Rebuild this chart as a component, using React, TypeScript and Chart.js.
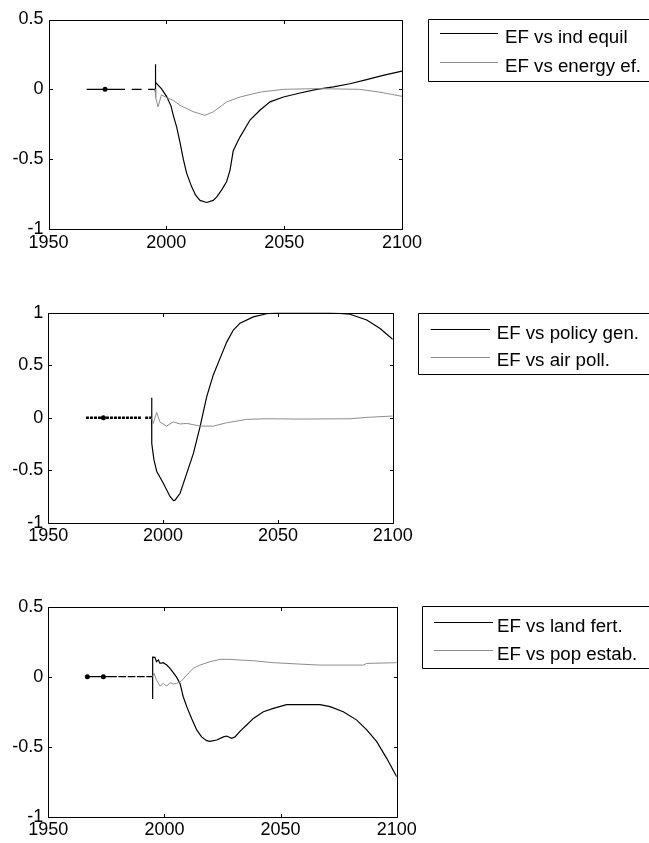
import React, { useEffect, useRef } from "react";
import { Chart, registerables } from "chart.js";

Chart.register(...registerables);

const BLACK = "#000000";
const GREY = "#8c8c8c";
const FONT = "'Liberation Sans', Arial, Helvetica, sans-serif";

// ---------- axis ticks ----------
const xTickYears = [1950, 2000, 2050, 2100];
const yTicksA = [-1, -0.5, 0, 0.5];
const yTicksB = [-1, -0.5, 0, 0.5, 1];

// ---------- panel 1 ----------
const hist1Years = [1966.2, 1974, 1982.5, 1983.9, 1985.3, 1989.5, 1990.9, 1992.3, 1995.2];
const hist1Values = [0, 0, 0, null, 0, 0, null, 0, 0];
const hist1Markers = [1974];
const indEquilYears = [1995.2, 1995.25, 1995.4, 1995.6, 1996.5, 1997.9, 2000.1, 2002, 2003, 2004.4, 2005.8, 2007.2, 2008.6, 2010.8, 2012.5, 2014.3, 2017.1, 2019.9, 2021.4, 2023.5, 2025.6, 2027, 2028.4, 2029.5, 2031.3, 2035.5, 2039.7, 2044, 2049.7, 2056.7, 2063.8, 2070.9, 2077.9, 2085, 2092, 2100];
const indEquilValues = [0, 0.18, -0.02, 0.05, 0.03, 0.005, -0.05, -0.12, -0.19, -0.27, -0.38, -0.5, -0.6, -0.7, -0.76, -0.795, -0.81, -0.795, -0.77, -0.72, -0.66, -0.58, -0.44, -0.4, -0.34, -0.22, -0.15, -0.09, -0.055, -0.026, 0, 0.017, 0.04, 0.07, 0.1, 0.13];
const energyEfYears = [1995.2, 1995.5, 1996.5, 1997.9, 2000.2, 2003, 2005.8, 2011.4, 2016.4, 2020, 2025.6, 2031.3, 2039.7, 2049.7, 2063.8, 2082, 2090.6, 2100];
const energyEfValues = [0, -0.06, -0.126, -0.04, -0.06, -0.08, -0.115, -0.16, -0.186, -0.16, -0.09, -0.055, -0.02, 0, 0.005, 0, -0.02, -0.05];

// ---------- panel 2 ----------
const hist2Years = [1966.4, 1974, 1990.7, 1991.5, 1992.2, 1995];
const hist2Values = [0, 0, 0, null, 0, 0];
const hist2Markers = [1974];
const policyGenYears = [1995, 1995.02, 1995.1, 1996, 1997.2, 2000.1, 2003, 2004.5, 2005.2, 2007.4, 2010.3, 2013.2, 2016.1, 2019, 2021.9, 2024.8, 2027.7, 2030.6, 2033.5, 2039.3, 2045.1, 2049.5, 2072.7, 2081.4, 2088.7, 2094.5, 2100];
const policyGenValues = [0, 0.19, -0.245, -0.4, -0.51, -0.625, -0.75, -0.79, -0.785, -0.72, -0.53, -0.34, -0.086, 0.2, 0.41, 0.565, 0.72, 0.835, 0.9, 0.96, 0.99, 1.0, 1.0, 0.985, 0.93, 0.85, 0.746];
const airPollYears = [1995, 1995.7, 1997.2, 1998.6, 2001.5, 2004.5, 2007.4, 2010.3, 2016.1, 2021.9, 2027.7, 2036.4, 2045, 2059.6, 2081.4, 2088.7, 2100];
const airPollValues = [0, -0.054, 0.05, -0.04, -0.08, -0.04, -0.06, -0.054, -0.08, -0.08, -0.048, -0.016, -0.01, -0.013, -0.01, 0.003, 0.016];

// ---------- panel 3 ----------
const hist3Years = [1966.2, 1966.8, 1973.7, 1979.5, 1979.85, 1980.2, 1983.5, 1983.85, 1984.2, 1987.5, 1987.85, 1988.2, 1991.5, 1991.85, 1992.2, 1994.9];
const hist3Values = [0, 0, 0, 0, null, 0, 0, null, 0, 0, null, 0, 0, null, 0, 0];
const hist3Markers = [1966.8, 1973.7];
const landFertYears = [1994.9, 1994.92, 1994.95, 1995.9, 1996.6, 1997.4, 1998.1, 1999.5, 2001, 2002.4, 2003.8, 2005.3, 2006.7, 2008.1, 2009.6, 2011.7, 2013.9, 2016, 2018.2, 2019.6, 2022.5, 2025.4, 2026.8, 2028.9, 2030.4, 2032.5, 2035.4, 2038.3, 2042.6, 2046.9, 2052.6, 2058.4, 2067, 2071.3, 2077, 2082.8, 2087.1, 2091.4, 2095.7, 2100];
const landFertValues = [0, -0.16, 0.14, 0.138, 0.107, 0.12, 0.095, 0.1, 0.083, 0.06, 0.029, -0.005, -0.048, -0.143, -0.214, -0.298, -0.38, -0.43, -0.457, -0.462, -0.452, -0.43, -0.424, -0.44, -0.43, -0.39, -0.345, -0.298, -0.25, -0.226, -0.2, -0.2, -0.2, -0.214, -0.25, -0.31, -0.38, -0.464, -0.583, -0.714];
const popEstabYears = [1994.9, 1995.5, 1996.6, 1998.1, 1999.5, 2001, 2002.4, 2003.8, 2005.3, 2007.4, 2009.6, 2012.4, 2015.3, 2019.6, 2024, 2028.2, 2032.5, 2038.3, 2046.9, 2058.4, 2067, 2085.6, 2087.1, 2100];
const popEstabValues = [0, 0.024, -0.024, -0.067, -0.048, -0.067, -0.043, -0.052, -0.048, -0.029, 0.012, 0.06, 0.083, 0.107, 0.124, 0.124, 0.119, 0.114, 0.1, 0.09, 0.083, 0.083, 0.095, 0.1];

const legend1Labels = ["EF vs ind equil", "EF vs energy ef."];
const legend2Labels = ["EF vs policy gen.", "EF vs air poll."];
const legend3Labels = ["EF vs land fert.", "EF vs pop estab."];

const W = 649;
const H = 281;

type Legend = {
  labels: string[];
  boxLeft: number;
  boxTop: number;
  boxBottom: number;
  lineX1: number;
  lineX2: number;
  rowY: number[];
  textX: number;
  baseY: number[];
};

type Spec = {
  offset: number;
  area: { left: number; right: number; top: number; bottom: number };
  yMin: number;
  yMax: number;
  yTicks: number[];
  hist: { years: number[]; values: (number | null)[]; markers: number[]; width: number; dash: number[] };
  black: { years: number[]; values: number[] };
  grey: { years: number[]; values: number[] };
  legend: Legend;
};

const specs: Spec[] = [
  {
    offset: 0,
    area: { left: 48.5, right: 402, top: 19.5, bottom: 229 },
    yMin: -1,
    yMax: 0.5,
    yTicks: yTicksA,
    hist: { years: hist1Years, values: hist1Values, markers: hist1Markers, width: 1.2, dash: [] },
    black: { years: indEquilYears, values: indEquilValues },
    grey: { years: energyEfYears, values: energyEfValues },
    legend: {
      labels: legend1Labels,
      boxLeft: 427.5,
      boxTop: 19,
      boxBottom: 80.5,
      lineX1: 440,
      lineX2: 498,
      rowY: [33.3, 62.3],
      textX: 505,
      baseY: [43, 72],
    },
  },
  {
    offset: 281,
    area: { left: 48.3, right: 392.7, top: 31.7, bottom: 241.7 },
    yMin: -1,
    yMax: 1,
    yTicks: yTicksB,
    hist: { years: hist2Years, values: hist2Values, markers: hist2Markers, width: 2.4, dash: [3, 1] },
    black: { years: policyGenYears, values: policyGenValues },
    grey: { years: airPollYears, values: airPollValues },
    legend: {
      labels: legend2Labels,
      boxLeft: 418.3,
      boxTop: 31.7,
      boxBottom: 93,
      lineX1: 430.7,
      lineX2: 490,
      rowY: [48, 75.7],
      textX: 496.7,
      baseY: [57.5, 85],
    },
  },
  {
    offset: 562,
    area: { left: 48.3, right: 396.7, top: 44.7, bottom: 254.7 },
    yMin: -1,
    yMax: 0.5,
    yTicks: yTicksA,
    hist: { years: hist3Years, values: hist3Values, markers: hist3Markers, width: 1.2, dash: [] },
    black: { years: landFertYears, values: landFertValues },
    grey: { years: popEstabYears, values: popEstabValues },
    legend: {
      labels: legend3Labels,
      boxLeft: 421.7,
      boxTop: 43.7,
      boxBottom: 105.7,
      lineX1: 434,
      lineX2: 493,
      rowY: [60.3, 88],
      textX: 497,
      baseY: [70, 97.5],
    },
  },
];

const toPoints = (years: number[], values: (number | null)[]) =>
  years.map((x, i) => ({ x, y: values[i] }));

function Panel({ spec }: { spec: Spec }) {
  const ref = useRef<HTMLCanvasElement | null>(null);

  useEffect(() => {
    if (!ref.current) return;
    const { area, legend } = spec;

    const boxPlugin = {
      id: "matlabBox",
      afterDraw(chart: any) {
        const ctx = chart.ctx as CanvasRenderingContext2D;
        const xs = chart.scales.x;
        const ys = chart.scales.y;
        const l = Math.round(chart.chartArea.left) + 0.5;
        const r = Math.round(chart.chartArea.right) + 0.5;
        const t = Math.round(chart.chartArea.top) + 0.5;
        const b = Math.round(chart.chartArea.bottom) + 0.5;
        ctx.save();
        ctx.strokeStyle = BLACK;
        ctx.lineWidth = 1;
        ctx.beginPath();
        ctx.rect(l, t, r - l, b - t);
        ctx.stroke();
        const tl = 3.5;
        ctx.beginPath();
        xTickYears.forEach((v) => {
          const px = Math.round(xs.getPixelForValue(v)) + 0.5;
          ctx.moveTo(px, b);
          ctx.lineTo(px, b - tl);
          ctx.moveTo(px, t);
          ctx.lineTo(px, t + tl);
        });
        spec.yTicks.forEach((v) => {
          const py = Math.round(ys.getPixelForValue(v)) + 0.5;
          ctx.moveTo(l, py);
          ctx.lineTo(l + tl, py);
          ctx.moveTo(r, py);
          ctx.lineTo(r - tl, py);
        });
        ctx.stroke();

        // legend
        ctx.beginPath();
        ctx.rect(Math.round(legend.boxLeft) + 0.5, Math.round(legend.boxTop) + 0.5, 400, Math.round(legend.boxBottom - legend.boxTop));
        ctx.stroke();
        const colors = [BLACK, GREY];
        legend.labels.forEach((lab, i) => {
          ctx.strokeStyle = colors[i];
          ctx.lineWidth = 1;
          ctx.beginPath();
          const y = Math.round(legend.rowY[i]) + 0.5;
          ctx.moveTo(legend.lineX1, y);
          ctx.lineTo(legend.lineX2, y);
          ctx.stroke();
          ctx.fillStyle = BLACK;
          ctx.font = `18.7px ${FONT}`;
          ctx.textAlign = "left";
          ctx.textBaseline = "alphabetic";
          ctx.fillText(lab, legend.textX, legend.baseY[i]);
        });
        ctx.restore();
      },
    };

    const chart = new Chart(ref.current, {
      type: "line",
      data: {
        datasets: [
          {
            label: legend.labels[1],
            data: toPoints(spec.grey.years, spec.grey.values) as any,
            borderColor: GREY,
            borderWidth: 1,
            pointRadius: 0,
            tension: 0,
          },
          {
            label: legend.labels[0],
            data: toPoints(spec.black.years, spec.black.values) as any,
            borderColor: BLACK,
            borderWidth: 1.2,
            pointRadius: 0,
            tension: 0,
          },
          {
            label: "history",
            data: toPoints(spec.hist.years, spec.hist.values) as any,
            borderColor: BLACK,
            backgroundColor: BLACK,
            borderWidth: spec.hist.width,
            borderDash: spec.hist.dash,
            pointRadius: (ctx: any) => {
              const p = ctx.raw;
              return p && spec.hist.markers.includes(p.x) ? 2.5 : 0;
            },
            pointBorderWidth: 0,
            pointBackgroundColor: BLACK,
            spanGaps: false,
            tension: 0,
          },
        ],
      },
      options: {
        animation: false,
        responsive: false,
        maintainAspectRatio: false,
        events: [],
        layout: { padding: { left: 0, right: W - area.right, top: area.top, bottom: 0 } },
        plugins: { legend: { display: false }, tooltip: { enabled: false } },
        scales: {
          x: {
            type: "linear",
            min: 1950,
            max: 2100,
            grid: { display: false, drawTicks: false },
            border: { display: false },
            ticks: {
              stepSize: 50,
              padding: 3,
              color: BLACK,
              font: { family: FONT, size: 18 },
              maxRotation: 0,
              autoSkip: false,
              callback: (v: any) => String(v),
            },
            afterFit: (s: any) => {
              s.height = H - area.bottom;
            },
          },
          y: {
            type: "linear",
            min: spec.yMin,
            max: spec.yMax,
            grid: { display: false, drawTicks: false },
            border: { display: false },
            ticks: {
              stepSize: 0.5,
              padding: 5,
              color: BLACK,
              font: { family: FONT, size: 18 },
              autoSkip: false,
              callback: (v: any) => String(v),
            },
            afterFit: (s: any) => {
              s.width = area.left;
            },
          },
        },
      },
      plugins: [boxPlugin],
    });
    return () => chart.destroy();
  }, [spec]);

  return (
    <canvas
      ref={ref}
      width={W}
      height={H}
      style={{ position: "absolute", left: 0, top: spec.offset, width: W, height: H, display: "block" }}
    />
  );
}

export default function App() {
  return (
    <div style={{ position: "absolute", left: 0, top: 0, width: W, height: 843, background: "#fff", overflow: "hidden" }}>
      {specs.map((s, i) => (
        <Panel key={i} spec={s} />
      ))}
    </div>
  );
}
